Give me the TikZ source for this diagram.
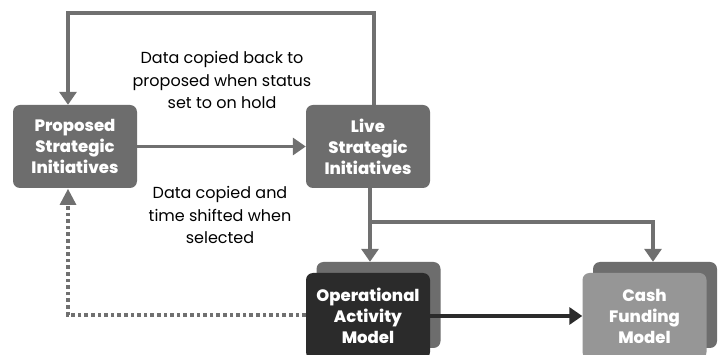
\documentclass[tikz,border=0pt]{standalone}
\usepackage{fontspec}
\setmainfont{Poppins}
\newfontfamily\heavyfont{Poppins ExtraBold}
\usetikzlibrary{arrows.meta}
\definecolor{boxgray}{HTML}{6D6D6D}
\definecolor{linegray}{HTML}{707070}
\definecolor{darkbox}{HTML}{2B2B2B}
\definecolor{lightbox}{HTML}{969696}
\begin{document}
\begin{tikzpicture}[x=1pt,y=-1pt,
  box/.style={rounded corners=7pt, inner sep=0pt, minimum width=124pt, minimum height=83pt,
    text=white, align=center, font=\fontsize{16.5}{21}\selectfont\heavyfont},
  note/.style={align=center, font=\fontsize{16}{22.5}\selectfont, text=black},
  conn/.style={line width=3.6pt, draw=linegray, -{Triangle[length=13pt,width=17pt]}},
  dotconn/.style={line width=3.6pt, draw=linegray, dash pattern=on 3.6pt off 3pt},
]
\clip (0,0) rectangle (718,355);
\fill[white] (0,0) rectangle (718,355);

% main boxes
\node[box, fill=boxgray] (prop) at (75,146.5) {Proposed\\Strategic\\Initiatives};
\node[box, fill=boxgray] (live) at (368,146.5) {Live\\Strategic\\Initiatives};

% stacked model boxes (shadow sheet behind, front sheet in front)
\node[box, fill=boxgray, minimum height=86pt] (opback) at (378.5,305) {};
\node[box, fill=darkbox, minimum height=86pt] (op) at (368,316) {Operational\\Activity\\Model};
\node[box, fill=boxgray, minimum height=86pt] (cashback) at (655,305) {};
\node[box, fill=lightbox, minimum height=86pt] (cash) at (644.5,316) {Cash\\Funding\\Model};

% notes
\node[note] (n1) at (222,80) {Data copied back to\\proposed when status\\set to on hold};
\node[note] (n2) at (220,215) {Data copied and\\time shifted when\\selected};

% connectors
\coordinate (tl) at (68,13);
\coordinate (tr) at (374,13);
\draw[conn] (prop.east) -- (live.west);
\draw[conn] (live.north -| tr) -- (tr) -- (tl) -- (prop.north -| tl);
\coordinate (br) at (370,222);
\draw[conn] (live.south -| br) -- (opback.north -| br);
\draw[conn] (br) -- (653,222) -- (cashback.north -| 653,0);
\draw[conn, draw=darkbox, fill=darkbox] (op.east) -- (cash.west);
\draw[dotconn] (op.west |- 0,315) -- (68,315) -- (68,205);
\fill[linegray] (68,189) -- (59.5,205) -- (76.5,205) -- cycle;
\end{tikzpicture}
\end{document}
